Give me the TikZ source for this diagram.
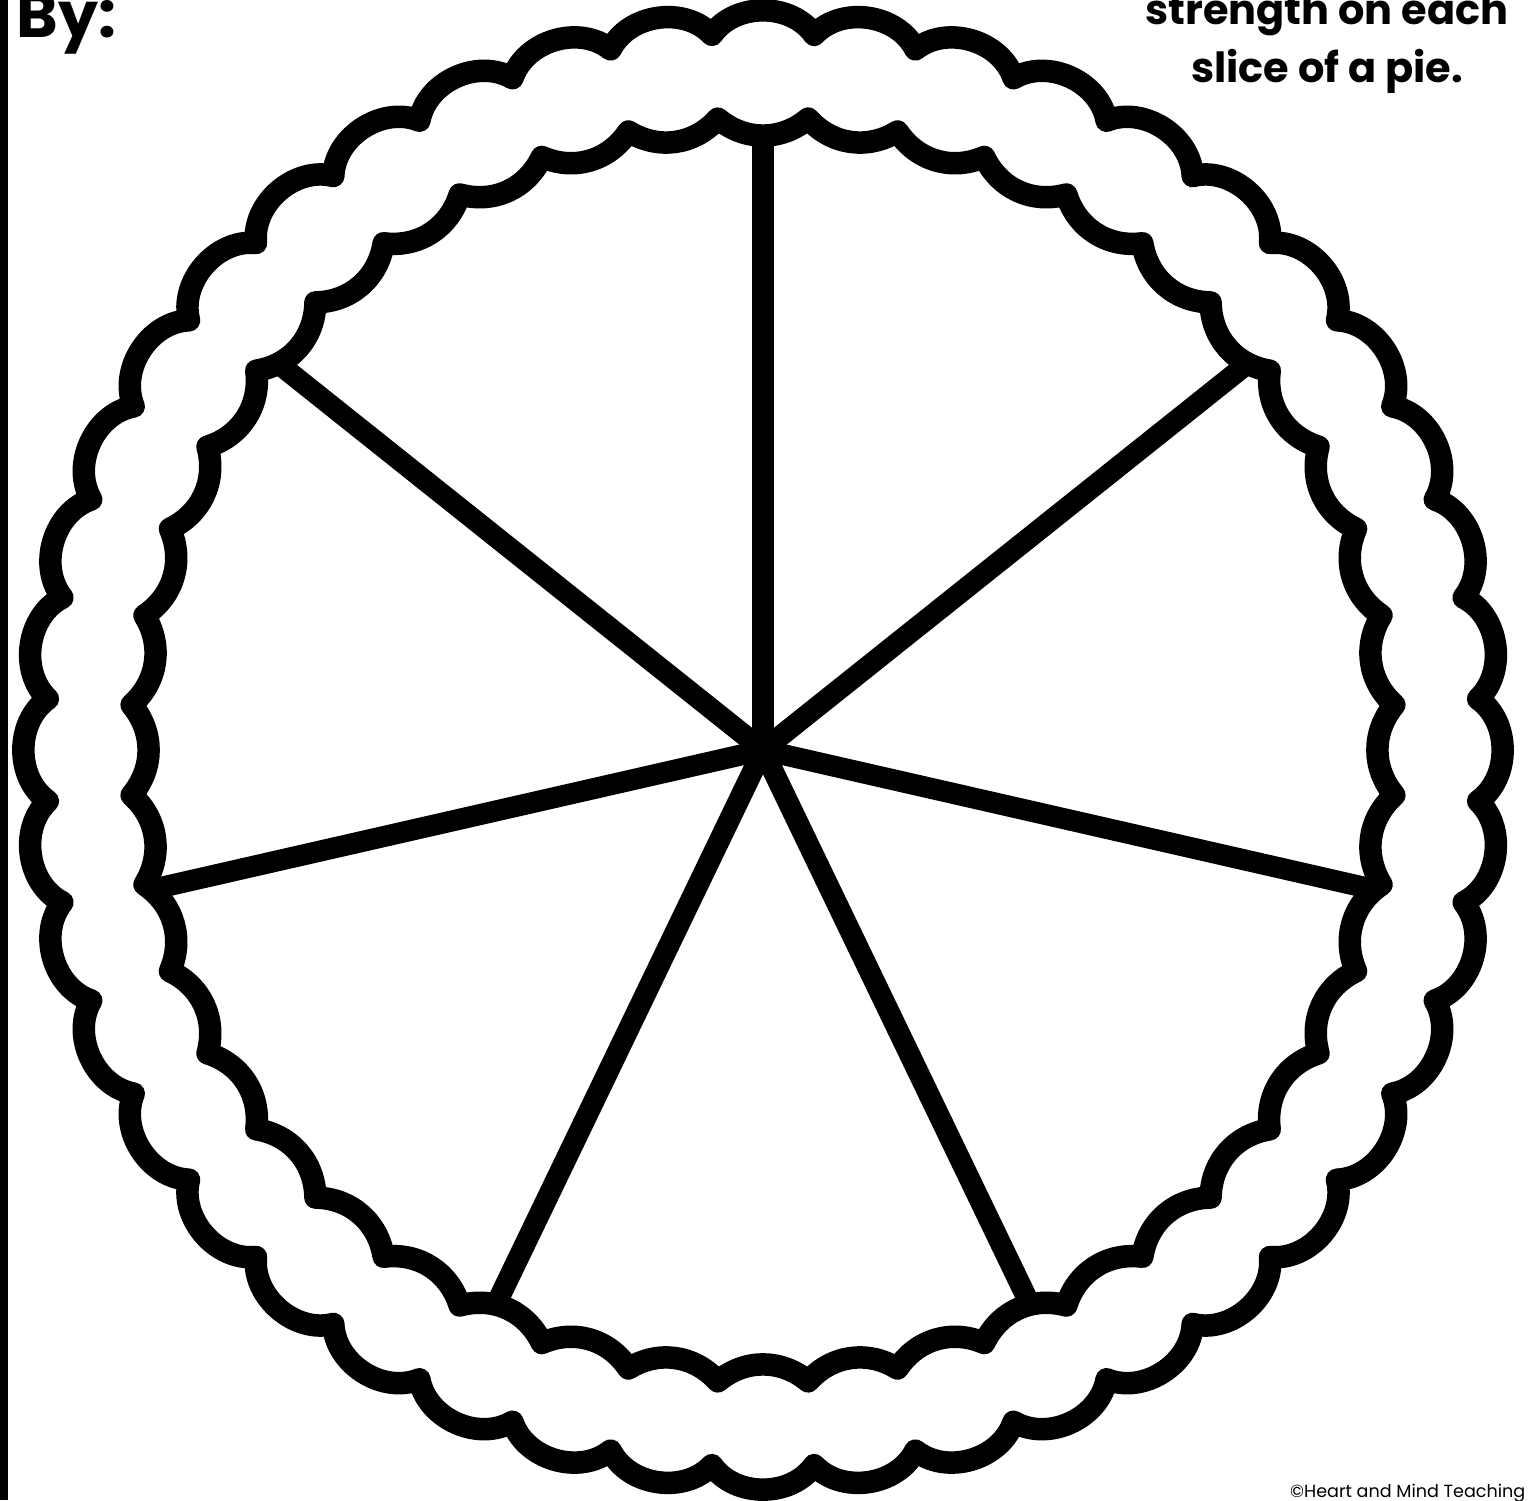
\documentclass[tikz,border=0pt]{standalone}
\usepackage{fontspec}
\setmainfont{Poppins}
\usetikzlibrary{calc,positioning}
\tikzset{
  rimline/.style={line width=6.4pt, line join=round, black},
  spokeline/.style={line width=6pt, black},
  edgebar/.style={line width=2.3pt, black},
  bylbl/.style={anchor=base west, inner sep=0pt, font=\bfseries\fontsize{18}{20}\selectfont},
  hintlbl/.style={anchor=base, inner sep=0pt, font=\bfseries\fontsize{11.8}{14}\selectfont},
  creditlbl/.style={anchor=base east, inner sep=0pt, font=\fontsize{5}{6}\selectfont},
}

\begin{document}
\begin{tikzpicture}
\useasboundingbox (0,0) rectangle (15.29,15);
\fill[white] (0,0) rectangle (15.29,15);
\coordinate (hub) at (7.63,7.50);
\draw[edgebar] (0.04,0) -- (0.04,15);
\draw[rimline, shift={(hub)}] (85.909:7.17)
  \foreach \k in {1,...,44} { to[bend right=55] ({85.909+\k*8.1818}:7.17) } -- cycle;
\draw[rimline, shift={(hub)}] (85.909:6.33)
  \foreach \k in {1,...,44} { to[bend left=40] ({85.909+\k*8.1818}:6.33) } -- cycle;
\foreach \s in {0,...,6} {
  \coordinate (tip\s) at ($(hub)+({90+\s*360/7}:6.22)$);
  \draw[spokeline] (hub) -- (tip\s);
}
\node[bylbl] (by) at (0.16,14.62) {By:};
\node[hintlbl] (hint1) at (13.27,14.75) {strength on each};
\node[hintlbl] (hint2) at (13.27,14.17) {slice of a pie.};
\node[creditlbl] (credit) at (15.26,0.03) {©Heart and Mind Teaching};
\end{tikzpicture}
\end{document}
